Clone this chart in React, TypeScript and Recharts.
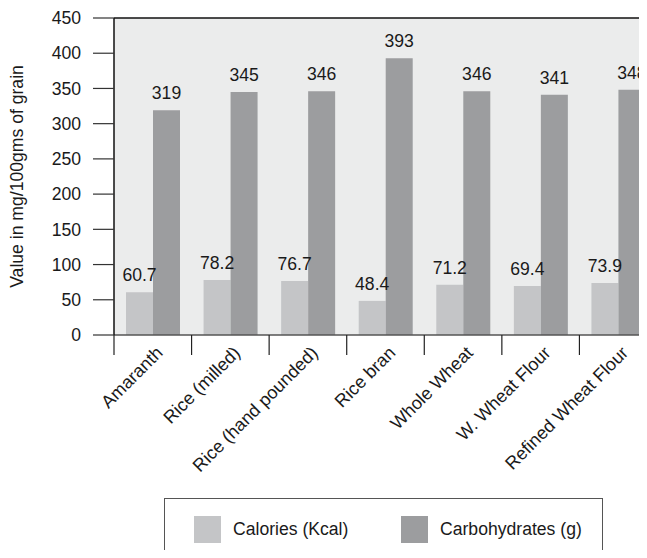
import React from 'react';
import {
  BarChart,
  Bar,
  XAxis,
  YAxis,
  CartesianGrid,
  ReferenceLine,
  LabelList,
  Label,
} from 'recharts';

const grains = [
  'Amaranth',
  'Rice (milled)',
  'Rice (hand pounded)',
  'Rice bran',
  'Whole Wheat',
  'W. Wheat Flour',
  'Refined Wheat Flour',
];
const calories = [60.7, 78.2, 76.7, 48.4, 71.2, 69.4, 73.9];
const carbohydrates = [319, 345, 346, 393, 346, 341, 348];
const yTicks = [0, 50, 100, 150, 200, 250, 300, 350, 400, 450];

const seriesNames = ['Calories (Kcal)', 'Carbohydrates (g)'];
const seriesColors = ['#c4c5c7', '#9c9d9f'];

const FONT = '"Liberation Sans", Arial, sans-serif';
const FONT_SIZE = 17.6;

const chartData = grains.map((name, i) => ({
  name,
  calories: calories[i],
  carbs: carbohydrates[i],
}));

// category tick: boundary line on the left of each band + rotated label
const GrainTick = (props: any) => {
  const { x, y, payload } = props;
  const half = payload.offset ?? 0;
  const left = x - half;
  const tx = x + 11;
  const ty = y + 19;
  return (
    <g>
      <line x1={left} y1={y} x2={left} y2={y + 20} stroke="#222" strokeWidth={1.2} />
      <text
        x={tx}
        y={ty}
        transform={`rotate(-45, ${tx}, ${ty})`}
        textAnchor="end"
        fontSize={18}
        fontFamily={FONT}
        fill="#1a1a1a"
      >
        {payload.value}
      </text>
    </g>
  );
};

const YTitle = (props: any) => {
  const vb = props.viewBox || { x: 0, y: 10, height: 317 };
  const cx = 15;
  const cy = vb.y + vb.height / 2;
  return (
    <text
      x={cx}
      y={cy}
      transform={`rotate(-90, ${cx}, ${cy})`}
      textAnchor="middle"
      fontSize={FONT_SIZE}
      fontFamily={FONT}
      fill="#1a1a1a"
    >
      Value in mg/100gms of grain
    </text>
  );
};

const LegendBox = () => (
  <div
    style={{
      position: 'absolute',
      left: 156,
      top: 490,
      width: 437,
      height: 80,
      border: '1px solid #555',
      background: '#fff',
      fontFamily: FONT,
      fontSize: FONT_SIZE,
      color: '#1a1a1a',
    }}
  >
    {seriesNames.map((name, i) => (
      <div
        key={name}
        style={{
          position: 'absolute',
          left: i === 0 ? 29 : 236,
          top: 17,
          display: 'flex',
          alignItems: 'center',
          whiteSpace: 'nowrap',
        }}
      >
        <span
          style={{
            display: 'inline-block',
            width: 27,
            height: 27,
            background: seriesColors[i],
            marginRight: 12,
          }}
        />
        <span>{name}</span>
      </div>
    ))}
  </div>
);

export default function App() {
  return (
    <div
      style={{
        position: 'relative',
        width: 660,
        height: 542,
        overflow: 'hidden',
        fontFamily: FONT,
      }}
    >
      {/* the plot runs past the right edge of the window; no scrollbars */}
      <style>{'html, body { overflow: hidden; } #root { width: 660px; }'}</style>
      <BarChart
        width={660}
        height={550}
        data={chartData}
        margin={{ top: 10, right: 11, left: 0, bottom: 163 }}
        barSize={27}
        barGap={0}
      >
        <CartesianGrid horizontal={false} vertical={false} fill="#ebecec" stroke="none" />
        <XAxis
          dataKey="name"
          interval={0}
          height={60}
          tickLine={false}
          tickSize={0}
          tickMargin={0}
          axisLine={{ stroke: '#555', strokeWidth: 1.5 }}
          tick={<GrainTick />}
        />
        <YAxis
          width={106}
          domain={[0, 450]}
          ticks={yTicks}
          interval={0}
          tickSize={21}
          tickMargin={12}
          tickLine={{ stroke: '#333', strokeWidth: 1.2 }}
          axisLine={{ stroke: '#111', strokeWidth: 1.5 }}
          tick={{ fontSize: FONT_SIZE, fontFamily: FONT, fill: '#1a1a1a' }}
        >
          <Label content={<YTitle />} />
        </YAxis>
        <ReferenceLine y={450} stroke="#111" strokeWidth={1.5} />
        <Bar dataKey="calories" fill={seriesColors[0]} isAnimationActive={false}>
          <LabelList
            dataKey="calories"
            position="top"
            offset={11}
            fontSize={FONT_SIZE}
            fontFamily={FONT}
            fill="#1a1a1a"
          />
        </Bar>
        <Bar dataKey="carbs" fill={seriesColors[1]} isAnimationActive={false}>
          <LabelList
            dataKey="carbs"
            position="top"
            offset={11}
            fontSize={FONT_SIZE}
            fontFamily={FONT}
            fill="#1a1a1a"
          />
        </Bar>
      </BarChart>
      <LegendBox />
    </div>
  );
}
